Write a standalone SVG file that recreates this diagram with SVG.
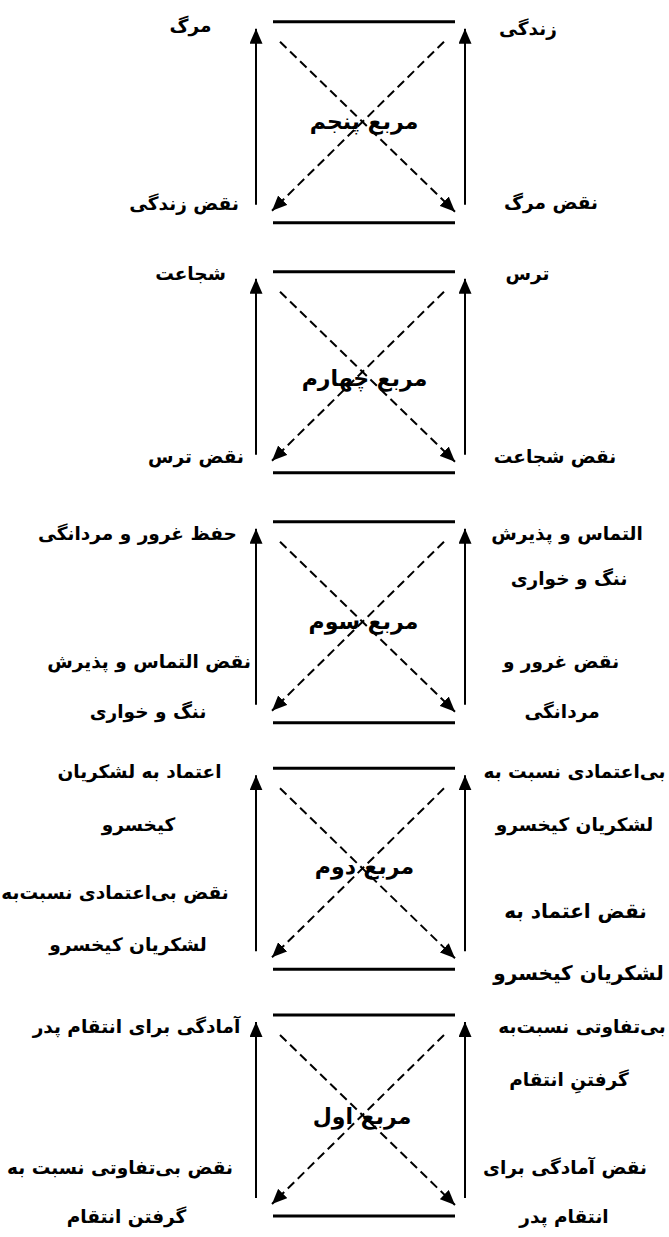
<svg xmlns="http://www.w3.org/2000/svg" xmlns:xlink="http://www.w3.org/1999/xlink" width="669" height="1237" viewBox="0 0 669 1237">
<style>
.t{font-family:'DejaVu Sans',sans-serif;font-weight:bold;font-size:18.5px;text-anchor:middle;fill:#000}
.c{font-size:22px}
.b{font-size:20px}
.bar{stroke:#000;stroke-width:3;fill:none}
.up{stroke:#000;stroke-width:2;fill:none;marker-end:url(#ah)}
.dash{stroke:#000;stroke-width:2;fill:none;stroke-dasharray:9 5;marker-end:url(#ah)}
</style>
<defs>
<marker id="ah" markerUnits="userSpaceOnUse" markerWidth="15" markerHeight="13" refX="15" refY="6.5" orient="auto">
<path d="M0,0 L15,6.5 L0,13 z" fill="#000"/>
</marker>
<g id="sq">
<line class="bar" x1="273" y1="0" x2="455" y2="0"/>
<line class="bar" x1="273" y1="201" x2="455" y2="201"/>
<line class="up" x1="256" y1="183" x2="256" y2="7"/>
<line class="up" x1="465" y1="183" x2="465" y2="7"/>
<line class="dash" x1="280" y1="20" x2="455" y2="190"/>
<line class="dash" x1="444" y1="20" x2="272" y2="189"/>
</g>
</defs>
<rect width="669" height="1237" fill="#fff"/>
<g id="connectors">
<use xlink:href="#sq" href="#sq" transform="translate(0,21.7)"/>
<use xlink:href="#sq" href="#sq" transform="translate(0,271.7)"/>
<use xlink:href="#sq" href="#sq" transform="translate(0,521.7)"/>
<use xlink:href="#sq" href="#sq" transform="translate(0,768.3)"/>
<use xlink:href="#sq" href="#sq" transform="translate(0,1015)"/>
</g>
<g id="square5">
<text class="t" x="190.5" y="32">مرگ</text>
<text class="t" x="528" y="35">زندگی</text>
<text class="t" x="184" y="210">نقض زندگی</text>
<text class="t" x="551" y="209">نقض مرگ</text>
<text class="t c" x="364" y="129">مربع پنجم</text>
</g>
<g id="square4">
<text class="t" x="190.5" y="280">شجاعت</text>
<text class="t" x="527.5" y="280">ترس</text>
<text class="t" x="196" y="463">نقض ترس</text>
<text class="t" x="555" y="463">نقض شجاعت</text>
<text class="t c" x="364.5" y="386">مربع چهارم</text>
</g>
<g id="square3">
<text class="t" x="137.5" y="540">حفظ غرور و مردانگی</text>
<text class="t" x="567" y="540">التماس و پذیرش</text>
<text class="t" x="569" y="585">ننگ و خواری</text>
<text class="t c" x="363.5" y="629">مربع سوم</text>
<text class="t" x="149" y="668">نقض التماس و پذیرش</text>
<text class="t" x="561" y="668">نقض غرور و</text>
<text class="t" x="148" y="718">ننگ و خواری</text>
<text class="t" x="562" y="718">مردانگی</text>
</g>
<g id="square2">
<text class="t" x="139.5" y="778">اعتماد به لشکریان</text>
<text class="t" x="138.5" y="831">کیخسرو</text>
<text class="t" x="574.5" y="778">بی‌اعتمادی نسبت به</text>
<text class="t" x="574.5" y="831">لشکریان کیخسرو</text>
<text class="t c" x="364.5" y="874">مربع دوم</text>
<text class="t" x="115" y="899">نقض بی‌اعتمادی نسبت‌به</text>
<text class="t" x="128" y="951">لشکریان کیخسرو</text>
<text class="t b" x="575.5" y="918">نقض اعتماد به</text>
<text class="t b" x="578.5" y="980">لشکریان کیخسرو</text>
</g>
<g id="square1">
<text class="t" x="136.5" y="1033">آمادگی برای انتقام پدر</text>
<text class="t" x="582" y="1033">بی‌تفاوتی نسبت‌به</text>
<text class="t" x="569" y="1086">گرفتنِ انتقام</text>
<text class="t c" x="362" y="1124">مربع اول</text>
<text class="t" x="120" y="1174">نقض بی‌تفاوتی نسبت به</text>
<text class="t" x="126.5" y="1223">گرفتن انتقام</text>
<text class="t" x="565" y="1174">نقض آمادگی برای</text>
<text class="t" x="564" y="1223">انتقام پدر</text>
</g>
</svg>
